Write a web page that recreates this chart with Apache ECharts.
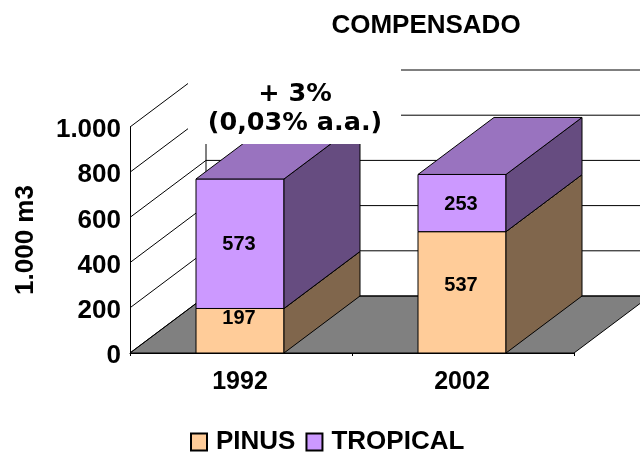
<!DOCTYPE html>
<html>
<head>
<meta charset="utf-8">
<style>html,body{margin:0;padding:0;background:#fff}#c{width:640px;height:452px}</style>
<script src="https://cdn.jsdelivr.net/npm/echarts@6/dist/echarts.min.js"></script>
</head>
<body>
<div id="c"></div>
<script>
const categories = ['1992', '2002'];
const pinus = [197, 537];
const tropical = [573, 253];
const yTicks = [0, 200, 400, 600, 800, 1000];
const yTickLabels = ['0', '200', '400', '600', '800', '1.000'];
const labelShiftPinus = [-13, -8];

const DX = 76, DY = -57, BAR_W = 88;
const FONT = 'Liberation Sans';
const chart = echarts.init(document.getElementById('c'), null, {renderer: 'canvas'});

function poly(points, fill) {
  return {type: 'polygon', shape: {points}, style: {fill, stroke: '#000', lineWidth: 1}};
}
function barSeries(name, values, bases, front, top, side, shifts) {
  return {
    name, type: 'custom', z: 3,
    itemStyle: {color: front, borderColor: '#000', borderWidth: 1},
    encode: {x: 0, y: 1},
    data: values.map((v, i) => [i, v + bases[i], bases[i], v]),
    renderItem(params, api) {
      const i = api.value(0);
      const t = api.coord([i, api.value(1)]);
      const b = api.coord([i, api.value(2)]);
      const l = t[0] - BAR_W / 2 - 1, r = l + BAR_W;
      const shift = shifts ? shifts[i] : 0;
      return {type: 'group', children: [
        poly([[l, b[1]], [r, b[1]], [r, t[1]], [l, t[1]]], front),
        poly([[r, b[1]], [r + DX, b[1] + DY], [r + DX, t[1] + DY], [r, t[1]]], side),
        poly([[l, t[1]], [r, t[1]], [r + DX, t[1] + DY], [l + DX, t[1] + DY]], top),
        {type: 'text', z2: 5, style: {
          x: t[0] - 2, y: (t[1] + b[1]) / 2 + shift + 1, text: String(api.value(3)),
          fill: '#000', font: 'bold 20px "' + FONT + '"', align: 'center', verticalAlign: 'middle'
        }}
      ]};
    }
  };
}

chart.setOption({
  animation: false,
  backgroundColor: '#fff',
  title: {
    text: 'COMPENSADO', left: 421, top: 8, textAlign: 'center',
    textStyle: {fontFamily: FONT, fontWeight: 'bold', fontSize: 26, color: '#000'}
  },
  legend: {
    data: ['PINUS', 'TROPICAL'], left: 185, top: 424, icon: 'rect',
    itemWidth: 16, itemHeight: 17, itemGap: 10, selectedMode: false,
    textStyle: {fontFamily: FONT, fontWeight: 'bold', fontSize: 26, color: '#000', padding: [0, 0, 0, 4]}
  },
  grid: {left: 130, right: 66, top: 127, bottom: 99, containLabel: false},
  xAxis: {
    type: 'category', data: categories, z: 5,
    axisLine: {lineStyle: {color: '#000', width: 1}},
    axisTick: {show: true, length: 3, lineStyle: {color: '#000'}},
    axisLabel: {fontFamily: FONT, fontWeight: 'bold', fontSize: 25, color: '#000', margin: 17, padding: [0, 2, 0, 0]}
  },
  yAxis: {
    type: 'value', min: 0, max: 1000, interval: 200, z: 5,
    name: '1.000 m3', nameLocation: 'middle', nameGap: 91, nameRotate: 90,
    nameTextStyle: {fontFamily: FONT, fontWeight: 'bold', fontSize: 26, color: '#000'},
    axisLine: {show: true, lineStyle: {color: '#000', width: 1}},
    axisTick: {show: false},
    splitLine: {show: false},
    axisLabel: {
      color: '#000', margin: 9,
      formatter: v => '{a|' + yTickLabels[yTicks.indexOf(v)] + '}',
      rich: {a: {fontFamily: FONT, fontWeight: 'bold', fontSize: 26, color: '#000', lineHeight: 32, verticalAlign: 'bottom'}}
    }
  },
  graphic: [
    {type: 'rect', z: 20, shape: {x: 188, y: 60, width: 213, height: 84}, style: {fill: '#fff'}},
    {type: 'text', z: 21, style: {
      x: 295, y: 109, text: '+ 3%\n(0,03% a.a.)', fill: '#000',
      font: 'bold 25.5px "DejaVu Sans"', lineHeight: 29, align: 'center', verticalAlign: 'middle'
    }}
  ],
  series: [
    {
      name: 'floor', type: 'custom', z: 1, silent: true, encode: {x: 0, y: 1},
      data: [[0, 0]],
      renderItem(params, api) {
        const band = api.size([1, 0])[0];
        const o = api.coord([0, 0]);
        const l = o[0] - band / 2, r = l + band * categories.length;
        return poly([[l, o[1]], [r, o[1]], [r + DX, o[1] + DY], [l + DX, o[1] + DY]], '#808080');
      }
    },
    {
      name: 'walls', type: 'custom', z: 2, silent: true, encode: {x: 0, y: 1},
      data: yTicks.map(v => [0, v]),
      renderItem(params, api) {
        const band = api.size([1, 0])[0];
        const p = api.coord([0, api.value(1)]);
        const l = p[0] - band / 2, r = l + band * categories.length;
        const ls = {stroke: '#000', lineWidth: 1};
        const kids = [
          {type: 'polyline', shape: {points: [[l, p[1]], [l + DX, p[1] + DY], [r + DX, p[1] + DY]]}, style: {...ls, fill: null}}
        ];
        if (api.value(1) === 0) {
          const topY = api.coord([0, 1000])[1];
          kids.push({type: 'line', shape: {x1: l + DX, y1: p[1] + DY, x2: l + DX, y2: topY + DY}, style: ls});
        }
        return {type: 'group', children: kids};
      }
    },
    barSeries('PINUS', pinus, [0, 0], '#FFCC99', '#BF9973', '#80664C', labelShiftPinus),
    barSeries('TROPICAL', tropical, pinus, '#CC99FF', '#9973BF', '#664C80', null)
  ]
});
</script>
</body>
</html>
